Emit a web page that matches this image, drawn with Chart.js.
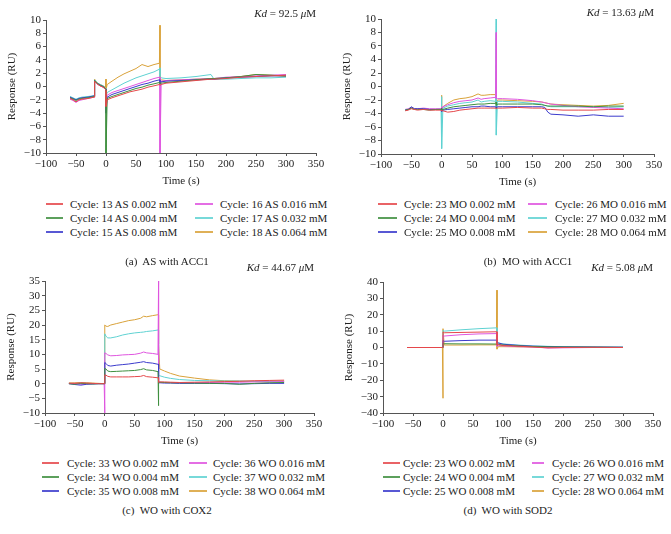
<!DOCTYPE html>
<html>
<head>
<meta charset="utf-8">
<script src="https://cdn.jsdelivr.net/npm/chart.js@4.4.1/dist/chart.umd.min.js"></script>
<style>
  body { margin: 0; width: 671px; height: 534px; position: relative; overflow: hidden; background: #fff; font-family: "Liberation Serif", serif; color: #222; }
  canvas { position: absolute; }
  .leg { position: absolute; font-size: 11px; white-space: nowrap; line-height: 14px; }
  .swatch { position: absolute; height: 2px; opacity: 0.85; }
  .cap { position: absolute; font-size: 11px; white-space: pre; transform: translate(-50%, -50%); }
</style>
</head>
<body>
<canvas id="chartA" width="335" height="190" style="left:0;top:0"></canvas>
<canvas id="chartB" width="336" height="191" style="left:335px;top:0"></canvas>
<canvas id="chartC" width="335" height="195" style="left:0;top:255px"></canvas>
<canvas id="chartD" width="336" height="195" style="left:335px;top:255px"></canvas>
<script>
// line colours, same order in every panel
const colors = ['#e5484b', '#3f8f3f', '#3b3bcc', '#df55df', '#5fd2d2', '#d9a23a'];

// (a) AS with ACC1
const timeA = [-60, -55, -50, -45, -40, -30, -20, -19, -15, -10, -5, -1, 0, 0, 2, 10, 20, 30, 40, 50, 60, 70, 80, 89, 90, 90, 92, 100, 125, 150, 175, 180, 200, 225, 250, 275, 300];
const labelsA = ['Cycle: 13 AS 0.002 mM', 'Cycle: 14 AS 0.004 mM', 'Cycle: 15 AS 0.008 mM', 'Cycle: 16 AS 0.016 mM', 'Cycle: 17 AS 0.032 mM', 'Cycle: 18 AS 0.064 mM'];
const valuesA = [
  [-1.8, -2.0, -2.3, -2.0, -1.9, -1.8, -1.6, 0.8, 0.4, 0.1, -0.1, -0.4, -0.6, -3.0, -2.0, -1.7, -1.4, -1.1, -0.8, -0.6, -0.4, -0.1, 0.1, 0.3, 0.3, 0.2, 0.3, 0.5, 0.7, 0.9, 1.1, 1.1, 1.2, 1.4, 1.5, 1.6, 1.7],
  [-1.7, -1.9, -2.1, -1.9, -1.8, -1.7, -1.5, 0.9, 0.5, 0.2, 0.0, -0.3, -0.5, -10, -1.8, -1.5, -1.2, -0.9, -0.6, -0.3, -0.1, 0.2, 0.4, 0.6, 0.6, 0.4, 0.5, 0.6, 0.8, 1.0, 1.2, 1.2, 1.3, 1.5, 1.8, 1.7, 1.6],
  [-1.6, -1.8, -2.0, -1.8, -1.7, -1.6, -1.4, 0.9, 0.5, 0.2, 0.0, -0.3, -0.4, -4.0, -1.6, -1.2, -0.9, -0.6, -0.3, 0.0, 0.3, 0.5, 0.8, 1.0, 1.0, 0.6, 0.7, 0.8, 0.9, 1.0, 1.1, 1.1, 1.3, 1.4, 1.5, 1.6, 1.6],
  [-1.9, -2.1, -2.4, -2.1, -2.0, -1.8, -1.6, 0.8, 0.4, 0.1, -0.1, -0.4, -0.5, -3.0, -1.3, -0.9, -0.6, -0.3, 0.0, 0.3, 0.6, 0.9, 1.2, 1.4, 1.4, -10, 0.8, 0.9, 1.0, 1.1, 1.2, 1.2, 1.4, 1.5, 1.6, 1.7, 1.8],
  [-1.5, -1.7, -1.9, -1.7, -1.6, -1.5, -1.4, 1.0, 0.6, 0.3, 0.1, -0.2, -0.3, -1.5, -0.9, -0.5, 0.0, 0.5, 0.9, 1.3, 1.6, 1.9, 2.2, 2.6, 2.8, 1.5, 1.3, 1.2, 1.3, 1.5, 1.8, 1.1, 1.1, 1.2, 1.3, 1.3, 1.4],
  [-1.6, -1.8, -2.0, -1.8, -1.7, -1.6, -1.5, 1.1, 0.6, 0.3, 0.1, -0.1, 1.1, -0.5, 0.3, 0.8, 1.4, 1.9, 2.3, 2.7, 3.3, 3.0, 3.3, 3.5, 9.2, 1.0, 1.0, 0.9, 1.0, 1.1, 1.2, 1.2, 1.3, 1.5, 1.8, 1.7, 1.5]
];

// (b) MO with ACC1
const timeB = [-60, -55, -50, -45, -40, -30, -20, -10, -1, 0, 0, 2, 10, 20, 30, 40, 50, 60, 65, 70, 80, 89, 90, 90, 92, 100, 125, 150, 165, 170, 175, 180, 200, 225, 250, 275, 300];
const labelsB = ['Cycle: 23 MO 0.002 mM', 'Cycle: 24 MO 0.004 mM', 'Cycle: 25 MO 0.008 mM', 'Cycle: 26 MO 0.016 mM', 'Cycle: 27 MO 0.032 mM', 'Cycle: 28 MO 0.064 mM'];
const valuesB = [
  [-3.6, -3.5, -3.3, -3.4, -3.5, -3.4, -3.5, -3.5, -3.5, -3.5, -3.6, -3.6, -3.8, -3.7, -3.5, -3.4, -3.3, -3.2, -3.2, -3.2, -3.2, -3.2, -3.2, -3.3, -3.2, -3.2, -3.1, -3.2, -3.2, -3.3, -3.4, -3.4, -3.5, -3.5, -3.5, -3.4, -3.4],
  [-3.5, -3.4, -3.2, -3.4, -3.4, -3.4, -3.5, -3.4, -3.4, -3.2, -3.5, -3.4, -3.2, -3.0, -2.9, -2.8, -2.7, -2.6, -2.6, -2.6, -2.5, -2.5, -2.3, -2.8, -2.6, -2.6, -2.6, -2.6, -2.7, -2.8, -2.9, -2.9, -2.9, -2.9, -3.0, -2.9, -2.9],
  [-3.5, -3.4, -3.0, -3.3, -3.3, -3.3, -3.4, -3.4, -3.4, -3.3, -3.7, -3.5, -3.4, -3.3, -3.2, -3.1, -3.0, -3.0, -2.9, -2.9, -3.0, -3.0, -3.0, -3.2, -3.0, -3.0, -3.0, -3.0, -3.0, -3.1, -3.8, -4.1, -4.2, -4.4, -4.2, -4.4, -4.4],
  [-3.4, -3.3, -3.1, -3.3, -3.3, -3.2, -3.3, -3.3, -3.3, -3.0, -3.5, -3.0, -2.7, -2.4, -2.2, -2.1, -2.0, -1.7, -1.9, -1.8, -1.7, -1.6, 8.0, -1.8, -1.8, -1.8, -1.9, -2.1, -2.3, -2.4, -2.5, -2.6, -2.8, -3.0, -3.1, -3.2, -3.3],
  [-3.4, -3.4, -3.2, -3.3, -3.3, -3.3, -3.4, -3.4, -3.3, -1.5, -9.2, -3.2, -2.9, -2.7, -2.5, -2.4, -2.3, -2.0, -2.3, -2.2, -2.1, -2.2, 10, -7.2, -2.2, -2.2, -2.3, -2.5, -2.6, -2.8, -2.9, -3.0, -3.0, -3.0, -3.0, -3.1, -3.0],
  [-3.5, -3.4, -3.1, -3.3, -3.3, -3.3, -3.4, -3.4, -3.4, -1.3, -3.6, -3.0, -2.5, -2.0, -1.8, -1.7, -1.5, -1.1, -1.3, -1.3, -1.2, -1.2, -1.2, -2.5, -2.0, -2.0, -2.1, -2.2, -2.3, -2.4, -2.5, -2.6, -2.7, -2.8, -2.9, -2.8, -2.5]
];

// (c) WO with COX2
const timeC = [-60, -50, -40, -30, -20, -10, -1, 0, 0, 2, 5, 10, 20, 30, 40, 50, 60, 65, 70, 80, 89, 90, 90, 92, 100, 110, 125, 150, 175, 200, 225, 250, 275, 300];
const labelsC = ['Cycle: 33 WO 0.002 mM', 'Cycle: 34 WO 0.004 mM', 'Cycle: 35 WO 0.008 mM', 'Cycle: 36 WO 0.016 mM', 'Cycle: 37 WO 0.032 mM', 'Cycle: 38 WO 0.064 mM'];
const valuesC = [
  [0.2, 0.1, 0.3, 0.2, 0.1, 0.0, 0.0, 0.0, 3.0, 2.9, 2.5, 2.3, 2.3, 2.3, 2.3, 2.4, 2.5, 2.8, 2.4, 2.2, 2.0, 2.0, 0.5, 0.6, 0.6, 0.5, 0.4, 0.5, 0.6, 0.7, 0.8, 1.0, 1.1, 1.2],
  [0.0, -0.2, 0.1, 0.0, -0.1, 0.0, 0.0, 0.0, 5.2, 5.0, 4.3, 4.1, 4.2, 4.3, 4.4, 4.5, 4.8, 5.1, 4.7, 4.5, 4.1, -7.5, 0.6, 0.5, 0.4, 0.3, 0.3, 0.2, 0.1, 0.1, -0.2, 0.1, 0.3, 0.4],
  [0.0, -0.3, -0.5, -0.2, -0.1, 0.0, 0.0, 0.0, 7.2, 6.9, 6.2, 6.0, 6.3, 6.5, 6.7, 7.0, 7.3, 7.5, 7.2, 7.0, 6.6, 6.6, 0.2, 0.3, 0.2, 0.2, 0.1, 0.1, 0.1, 0.0, -0.1, 0.0, 0.1, 0.1],
  [0.0, 0.1, -0.2, -0.1, 0.0, 0.0, 0.0, -10, 10.5, 10.3, 9.8, 9.5, 9.6, 9.8, 9.9, 10.0, 10.4, 10.8, 10.5, 10.3, 10.0, 35, 0.3, 0.4, 0.4, 0.4, 0.3, 0.3, 0.4, 0.5, 0.5, 0.6, 0.6, 0.7],
  [0.1, 0.0, 0.2, 0.1, 0.0, 0.0, 0.0, 0.0, 17.0, 16.2, 15.6, 15.6, 16.0, 16.6, 17.0, 17.3, 17.5, 17.6, 17.8, 18.0, 18.3, 18.3, 2.8, 2.7, 2.2, 1.8, 1.4, 1.1, 1.0, 0.9, 0.9, 0.8, 0.8, 0.8],
  [0.2, 0.3, 0.4, 0.3, 0.2, 0.1, 0.0, 0.0, 20.0, 19.6, 19.5, 20.0, 20.5, 21.0, 21.5, 21.8, 22.3, 23.0, 22.8, 23.2, 23.5, 23.5, 13.5, 5.0, 4.3, 3.5, 2.6, 1.9, 1.3, 1.0, 0.9, 0.8, 0.8, 0.9]
];

// (d) WO with SOD2
const timeD = [-60, -30, -1, 0, 0, 2, 30, 60, 89, 90, 90, 92, 100, 125, 150, 175, 200, 250, 300];
const labelsD = ['Cycle: 23 WO 0.002 mM', 'Cycle: 24 WO 0.004 mM', 'Cycle: 25 WO 0.008 mM', 'Cycle: 26 WO 0.016 mM', 'Cycle: 27 WO 0.032 mM', 'Cycle: 28 WO 0.064 mM'];
const valuesD = [
  [0, 0, 0, 0, 9.5, 9.0, 9.2, 9.4, 9.6, 9.6, 1.5, 1.8, 1.2, 0.8, 0.3, -0.2, 0.0, 0.1, 0.0],
  [0, 0, 0, 0, 2.5, 2.3, 2.2, 2.2, 2.1, 2.1, 1.5, 2.0, 1.5, 1.0, 0.6, 0.4, 0.3, 0.2, 0.1],
  [0, 0, 0, 0, 4.2, 3.8, 4.2, 4.5, 4.5, 4.5, 3.0, 2.8, 2.0, 1.3, 0.8, 0.6, 0.4, 0.3, 0.2],
  [0, 0, 0, 0, 7.5, 7.0, 7.8, 8.3, 8.5, 9.5, 0.8, 1.2, 1.0, 0.5, 0.3, -0.3, -0.2, 0.0, 0.0],
  [0, 0, 0, 0, 10.5, 10.0, 10.8, 11.5, 12.0, 12.0, 2.5, 2.8, 2.2, 1.5, 1.0, 0.7, 0.5, 0.3, 0.2],
  [0, 0, 0, -31, 11.5, 1.5, 1.5, 1.6, 1.6, 35, -1.0, 0.5, 0.5, 0.4, 0.3, 0.2, 0.2, 0.1, 0.0]
];

const font = { family: '"Liberation Serif", serif', size: 11 };
const tickFont = { family: '"Liberation Serif", serif', size: 11, lineHeight: 1 };
const minus = v => String(v).replace('-', '\u2212');

// Kd = ... text in the top right corner
const kdLabel = {
  id: 'kdLabel',
  afterDraw(chart, args, opts) {
    const ctx = chart.ctx;
    const parts = [['Kd', true], [' = ' + opts.value + ' ', false], ['\u03bc', true], ['M', false]];
    ctx.save();
    ctx.fillStyle = '#222';
    ctx.textBaseline = 'middle';
    let widths = parts.map(p => {
      ctx.font = (p[1] ? 'italic ' : '') + '11px "Liberation Serif"';
      return ctx.measureText(p[0]).width;
    });
    let x = chart.chartArea.right - widths.reduce((a, b) => a + b, 0);
    parts.forEach((p, i) => {
      ctx.font = (p[1] ? 'italic ' : '') + '11px "Liberation Serif"';
      ctx.fillText(p[0], x, opts.y);
      x += widths[i];
    });
    ctx.restore();
  }
};

function makePanel(id, time, values, labels, yMin, yMax, yStep, padding, kd, kdY) {
  const datasets = values.map((vals, i) => ({
    label: labels[i],
    data: vals.map((v, j) => ({ x: time[j], y: v })),
    borderColor: colors[i],
    borderWidth: 1,
    pointRadius: 0,
    tension: 0,
    fill: false
  }));
  new Chart(document.getElementById(id), {
    type: 'line',
    data: { datasets: datasets },
    options: {
      responsive: false,
      animation: false,
      layout: { padding: padding },
      plugins: {
        legend: { display: false },
        tooltip: { enabled: false },
        kdLabel: { value: kd, y: kdY }
      },
      scales: {
        x: {
          type: 'linear', min: -100, max: 350,
          ticks: { stepSize: 50, font: tickFont, color: '#222', padding: 3, maxRotation: 0, autoSkip: false, maxTicksLimit: 30, callback: minus },
          grid: { drawOnChartArea: false, tickLength: 3, color: '#555' },
          border: { color: '#555' },
          title: { display: true, text: 'Time (s)', font: font, color: '#222', padding: 0 },
          afterFit(s) { s.height = 35; }
        },
        y: {
          min: yMin, max: yMax,
          ticks: { stepSize: yStep, font: tickFont, color: '#222', padding: 2, autoSkip: false, maxTicksLimit: 30, callback: minus },
          grid: { drawOnChartArea: false, tickLength: 3, color: '#555' },
          border: { color: '#555' },
          title: { display: true, text: 'Response (RU)', font: font, color: '#222', padding: 0 },
          afterFit(s) { s.width = 40; }
        }
      }
    },
    plugins: [kdLabel]
  });
}

makePanel('chartA', timeA, valuesA, labelsA, -10, 10, 2, { left: 6, right: 19, top: 20, bottom: 2 }, '92.5', 14);
makePanel('chartB', timeB, valuesB, labelsB, -10, 10, 2, { left: 6, right: 17, top: 19, bottom: 2 }, '13.63', 13);
makePanel('chartC', timeC, valuesC, labelsC, -10, 35, 5, { left: 5, right: 21, top: 26, bottom: 2 }, '44.67', 13);
makePanel('chartD', timeD, valuesD, labelsD, -40, 40, 10, { left: 8, right: 18, top: 27, bottom: 2 }, '5.08', 13);

// legends: two columns of three, and the caption under them
function makeLegend(labels, rowY, col1, col2, caption, capX, capY) {
  labels.forEach((text, i) => {
    const col = i < 3 ? col1 : col2;
    const y = rowY + (i % 3) * 14;
    const sw = document.createElement('div');
    sw.className = 'swatch';
    sw.style.left = col[0] + 'px';
    sw.style.width = (col[1] - col[0]) + 'px';
    sw.style.top = (y - 1) + 'px';
    sw.style.backgroundColor = colors[i];
    document.body.appendChild(sw);
    const t = document.createElement('div');
    t.className = 'leg';
    t.style.left = col[2] + 'px';
    t.style.top = (y - 7) + 'px';
    t.textContent = text;
    document.body.appendChild(t);
  });
  const c = document.createElement('div');
  c.className = 'cap';
  c.style.left = capX + 'px';
  c.style.top = capY + 'px';
  c.textContent = caption;
  document.body.appendChild(c);
}

makeLegend(labelsA, 204, [46, 63, 70], [195, 213, 220], '(a)  AS with ACC1', 167, 261);
makeLegend(labelsB, 204, [378, 397, 404], [528, 547, 555], '(b)  MO with ACC1', 528, 261);
makeLegend(labelsC, 463, [42, 59, 67], [189, 207, 213], '(c)  WO with COX2', 167, 510);
makeLegend(labelsD, 463, [383, 400, 403], [532, 544, 552], '(d)  WO with SOD2', 508, 510);
</script>
</body>
</html>
